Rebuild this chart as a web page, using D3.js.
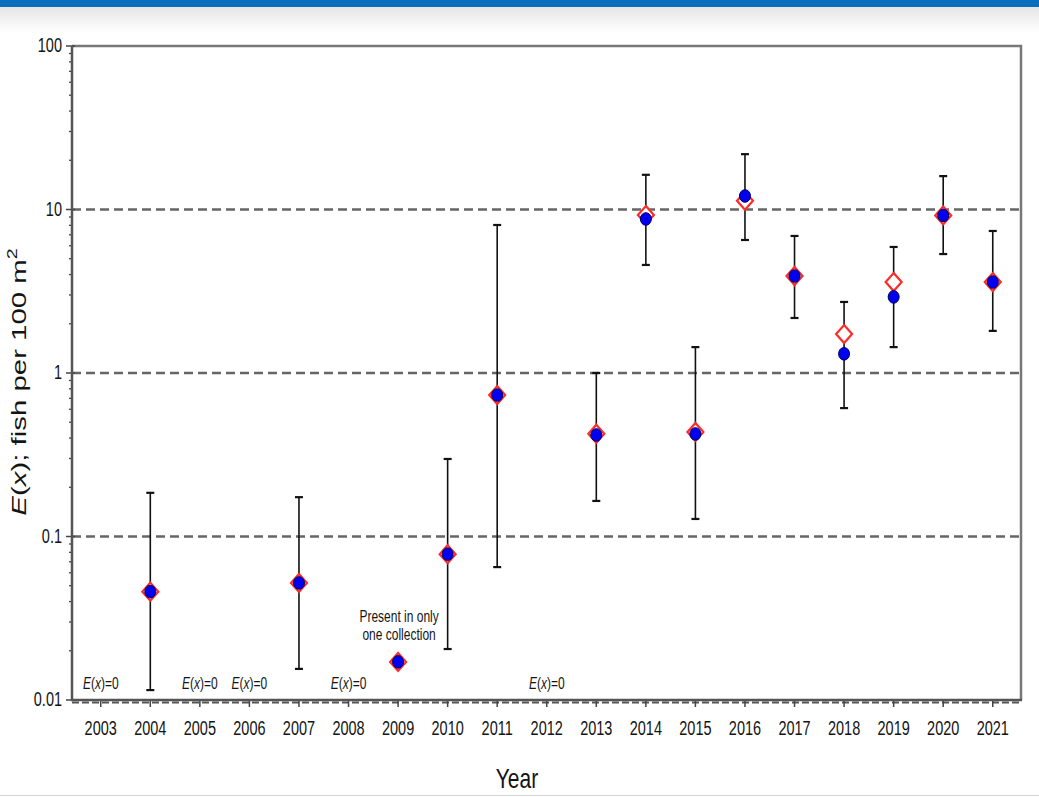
<!DOCTYPE html>
<html>
<head>
<meta charset="utf-8">
<title>E(x) by year</title>
<style>
  body { margin: 0; background: #fff; }
  svg { display: block; font-family: "Liberation Sans", Arial, sans-serif; }
</style>
</head>
<body>
<script src="https://d3js.org/d3.v7.min.js"></script>
<script>
  // values
  var tickYears = [2003, 2004, 2005, 2006, 2007, 2008, 2009, 2010, 2011, 2012, 2013, 2014, 2015, 2016, 2017, 2018, 2019, 2020, 2021];
  var yTicks = [0.01, 0.1, 1, 10, 100];
  var yTickLabels = ['0.01', '0.1', '1', '10', '100'];
  var years = [2004, 2007, 2009, 2010, 2011, 2013, 2014, 2015, 2016, 2017, 2018, 2019, 2020, 2021];
  var diamondVals = [0.046, 0.052, 0.0171, 0.078, 0.733, 0.425, 9.25, 0.436, 11.3, 3.92, 1.73, 3.6, 9.2, 3.6];
  var circleVals = [0.046, 0.052, 0.0171, 0.078, 0.733, 0.418, 8.75, 0.424, 12.1, 3.92, 1.31, 2.92, 9.2, 3.6];
  var upperVals = [0.185, 0.174, null, 0.298, 8.04, 1.0, 16.3, 1.44, 21.8, 6.89, 2.72, 5.9, 16.0, 7.39];
  var lowerVals = [0.0115, 0.0155, null, 0.0205, 0.065, 0.165, 4.58, 0.128, 6.51, 2.17, 0.61, 1.44, 5.34, 1.81];
  var zeroYears = [2003, 2005, 2006, 2008, 2012];
  var gridVals = [0.1, 1, 10];

  var W = 1039, H = 797;
  var plotL = 72, plotR = 1021, plotT = 46, plotB = 700;
  var stretch = 1.35; // the picture's text is drawn taller than wide
  var ink = '#141414';

  var svg = d3.select('body').append('svg').attr('width', W).attr('height', H);

  // page header strip
  var defs = svg.append('defs');
  var grad = defs.append('linearGradient').attr('id', 'hdr').attr('x1', 0).attr('x2', 0).attr('y1', 0).attr('y2', 1);
  grad.append('stop').attr('offset', '0%').attr('stop-color', '#e6e6e6');
  grad.append('stop').attr('offset', '100%').attr('stop-color', '#ffffff');
  svg.append('rect').attr('x', 0).attr('y', 7).attr('width', W).attr('height', 26).attr('fill', 'url(#hdr)');
  svg.append('rect').attr('x', 0).attr('y', 0).attr('width', W).attr('height', 7).attr('fill', '#0a6ebd');
  svg.append('line').attr('x1', 0).attr('x2', W).attr('y1', 795.5).attr('y2', 795.5).attr('stroke', '#d4d4d4');

  var x = d3.scaleLinear().domain([2002.42, 2021.57]).range([plotL, plotR]);
  var y = d3.scaleLog().domain([0.01, 100]).range([plotB, plotT]);

  // frame top & right
  svg.append('path')
    .attr('d', 'M' + plotL + ',' + plotT + 'H' + plotR + 'V' + plotB)
    .attr('fill', 'none').attr('stroke', '#777').attr('stroke-width', 2.5);

  // dashed reference lines
  svg.selectAll('line.grid').data(gridVals).enter().append('line')
    .attr('class', 'grid')
    .attr('x1', plotL).attr('x2', plotR)
    .attr('y1', function(d) { return y(d); }).attr('y2', function(d) { return y(d); })
    .attr('stroke', '#666').attr('stroke-width', 2.5).attr('stroke-dasharray', '9,5');

  // y axis (log) with minor ticks
  var yAxis = svg.append('g').attr('transform', 'translate(' + plotL + ',0)');
  var minor = [];
  for (var e = -2; e < 2; e++) {
    for (var m = 2; m <= 9; m++) minor.push(m * Math.pow(10, e));
  }
  yAxis.selectAll('line.minor').data(minor).enter().append('line')
    .attr('x1', -3).attr('x2', 1)
    .attr('y1', function(d) { return y(d); }).attr('y2', function(d) { return y(d); })
    .attr('stroke', '#444').attr('stroke-width', 1.3);
  yAxis.selectAll('line.major').data(yTicks).enter().append('line')
    .attr('x1', -6).attr('x2', 3)
    .attr('y1', function(d) { return y(d); }).attr('y2', function(d) { return y(d); })
    .attr('stroke', '#444').attr('stroke-width', 1.5);
  yAxis.append('line').attr('x1', 0).attr('x2', 0).attr('y1', plotT).attr('y2', plotB)
    .attr('stroke', '#555').attr('stroke-width', 2.5);
  yAxis.selectAll('g.lab').data(yTicks).enter().append('g')
    .attr('transform', function(d) { return 'translate(-10,' + (y(d) + 6) + ')'; })
    .append('text')
    .attr('transform', 'scale(1,' + stretch + ')')
    .attr('text-anchor', 'end').attr('font-size', 14.5).attr('fill', ink)
    .text(function(d, i) { return yTickLabels[i]; });

  // x axis
  var xAxis = svg.append('g').attr('transform', 'translate(0,' + plotB + ')');
  xAxis.append('line').attr('x1', plotL).attr('x2', plotR).attr('y1', 2.5).attr('y2', 2.5)
    .attr('stroke', '#555').attr('stroke-width', 2).attr('stroke-dasharray', '7,3');
  xAxis.selectAll('line.tick').data(tickYears).enter().append('line')
    .attr('x1', function(d) { return x(d); }).attr('x2', function(d) { return x(d); })
    .attr('y1', 0).attr('y2', 7)
    .attr('stroke', '#444').attr('stroke-width', 1.5);
  xAxis.append('line').attr('x1', plotL - 1).attr('x2', plotR + 1).attr('y1', 0).attr('y2', 0)
    .attr('stroke', '#555').attr('stroke-width', 2.5);
  xAxis.selectAll('g.lab').data(tickYears).enter().append('g')
    .attr('transform', function(d) { return 'translate(' + x(d) + ',35)'; })
    .append('text')
    .attr('transform', 'scale(1,' + stretch + ')')
    .attr('text-anchor', 'middle').attr('font-size', 14.5).attr('fill', ink)
    .text(function(d) { return d; });

  // axis titles
  svg.append('g').attr('transform', 'translate(517,788)')
    .append('text').attr('transform', 'scale(1,' + stretch + ')')
    .attr('text-anchor', 'middle').attr('font-size', 21).attr('fill', ink).text('Year');

  var yt = svg.append('text')
    .attr('transform', 'translate(26,382) rotate(-90) scale(1.4,1)')
    .attr('text-anchor', 'middle').attr('font-size', 21).attr('fill', ink);
  yt.append('tspan').attr('font-style', 'italic').text('E');
  yt.append('tspan').text('(');
  yt.append('tspan').attr('font-style', 'italic').text('x');
  yt.append('tspan').text('); fish per 100 m');
  yt.append('tspan').attr('font-size', 14).attr('dy', -9).text('2');

  // E(x)=0 notes
  var zl = svg.selectAll('g.zero').data(zeroYears).enter().append('g')
    .attr('transform', function(d) { return 'translate(' + x(d) + ',689)'; })
    .append('text')
    .attr('transform', 'scale(1,' + stretch + ')')
    .attr('text-anchor', 'middle').attr('font-size', 12).attr('fill', ink);
  zl.append('tspan').attr('font-style', 'italic').text('E');
  zl.append('tspan').text('(');
  zl.append('tspan').attr('font-style', 'italic').text('x');
  zl.append('tspan').text(')=0');

  // note for 2009
  var note = svg.append('g').attr('transform', 'translate(' + (x(2009) + 1) + ',0)');
  note.append('g').attr('transform', 'translate(0,622)').append('text')
    .attr('transform', 'scale(1,' + stretch + ')').attr('text-anchor', 'middle')
    .attr('font-size', 12).attr('fill', ink).text('Present in only');
  note.append('g').attr('transform', 'translate(0,640)').append('text')
    .attr('transform', 'scale(1,' + stretch + ')').attr('text-anchor', 'middle')
    .attr('font-size', 12).attr('fill', ink).text('one collection');

  // error bars
  var bars = years.map(function(yr, i) {
    return { year: yr, hi: upperVals[i], lo: lowerVals[i] };
  }).filter(function(d) { return d.hi != null; });
  var eb = svg.append('g').attr('stroke', '#111').attr('fill', 'none');
  eb.selectAll('line.v').data(bars).enter().append('line')
    .attr('x1', function(d) { return x(d.year); }).attr('x2', function(d) { return x(d.year); })
    .attr('y1', function(d) { return y(d.hi); }).attr('y2', function(d) { return y(d.lo); })
    .attr('stroke-width', 1.6);
  ['hi', 'lo'].forEach(function(k) {
    eb.selectAll('line.c' + k).data(bars).enter().append('line')
      .attr('x1', function(d) { return x(d.year) - 4; }).attr('x2', function(d) { return x(d.year) + 4; })
      .attr('y1', function(d) { return y(d[k]); }).attr('y2', function(d) { return y(d[k]); })
      .attr('stroke-width', 2.2);
  });

  // red diamonds
  svg.selectAll('path.dia').data(years).enter().append('path')
    .attr('d', function(d, i) {
      var cx = x(d), cy = y(diamondVals[i]);
      return 'M' + cx + ',' + (cy - 9) + 'L' + (cx + 8) + ',' + cy + 'L' + cx + ',' + (cy + 9) + 'L' + (cx - 8) + ',' + cy + 'Z';
    })
    .attr('fill', '#fff').attr('stroke', '#ff2a2a').attr('stroke-width', 2.2);

  // blue circles
  svg.selectAll('ellipse.pt').data(years).enter().append('ellipse')
    .attr('cx', function(d) { return x(d); })
    .attr('cy', function(d, i) { return y(circleVals[i]); })
    .attr('rx', 5.5).attr('ry', 6.3)
    .attr('fill', '#0000f0').attr('stroke', '#00005a').attr('stroke-width', 1);
</script>
</body>
</html>
